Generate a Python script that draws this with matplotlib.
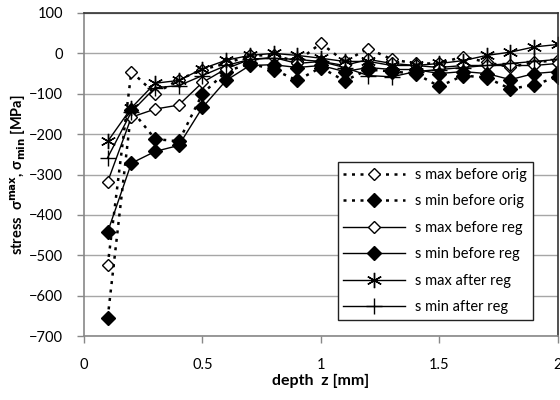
import numpy as np
import matplotlib
matplotlib.use("Agg")
import matplotlib.pyplot as plt

plt.rcParams['font.family'] = ['Lato', 'DejaVu Sans']
plt.rcParams['mathtext.fontset'] = 'dejavusans'

# depth z [mm]
depth = [0.1, 0.2, 0.3, 0.4, 0.5, 0.6, 0.7, 0.8, 0.9, 1.0,
         1.1, 1.2, 1.3, 1.4, 1.5, 1.6, 1.7, 1.8, 1.9, 2.0]

# stresses [MPa]
s_max_before_orig = [-525, -45, -100, -65, -40, -25, -5, -5, -20, 25,
                     -20, 12, -15, -25, -25, -8, -22, -34, -22, -17]
s_min_before_orig = [-655, -140, -212, -218, -100, -45, -25, -40, -67, -35,
                     -68, -40, -45, -50, -82, -55, -60, -88, -78, -58]
s_max_before_reg = [-318, -158, -138, -128, -72, -38, -15, -10, -25, -20,
                    -30, -15, -25, -30, -35, -30, -30, -30, -30, -25]
s_min_before_reg = [-442, -272, -243, -228, -134, -67, -30, -28, -35, -30,
                    -45, -35, -40, -40, -50, -45, -50, -65, -50, -45]
s_max_after_reg = [-218, -135, -74, -67, -38, -17, -5, 0, -5, -12,
                   -20, -20, -30, -30, -25, -18, -5, 3, 16, 22]
s_min_after_reg = [-258, -145, -85, -80, -55, -30, -15, -12, -15, -20,
                   -35, -55, -58, -45, -40, -35, -30, -25, -20, -15]

labels = ['s max before orig', 's min before orig', 's max before reg',
          's min before reg', 's max after reg', 's min after reg']

fig = plt.figure(figsize=(5.6, 4.0), dpi=100)
ax = fig.add_axes([0.15, 0.16, 0.846, 0.8075])

# gridlines behind the data
ax.set_axisbelow(True)
ax.yaxis.grid(True, color='#a6a6a6', linewidth=1.0)

dotted = (0, (1.2, 2.2))
ax.plot(depth, s_max_before_orig, linestyle=dotted, color='black', lw=1.8,
        marker='D', ms=6.5, mfc='white', mec='black', mew=1.0, label=labels[0])
ax.plot(depth, s_min_before_orig, linestyle=dotted, color='black', lw=1.8,
        marker='D', ms=7.5, mfc='black', mec='black', label=labels[1])
ax.plot(depth, s_max_before_reg, linestyle='-', color='black', lw=1.0,
        marker='D', ms=6.5, mfc='white', mec='black', mew=1.0, label=labels[2])
ax.plot(depth, s_min_before_reg, linestyle='-', color='black', lw=1.0,
        marker='D', ms=7.5, mfc='black', mec='black', label=labels[3])
ax.plot(depth, s_max_after_reg, linestyle='-', color='black', lw=1.0,
        marker=(6, 2, 0), ms=11, mec='black', mew=1.0, label=labels[4])
ax.plot(depth, s_min_after_reg, linestyle='-', color='black', lw=1.0,
        marker='+', ms=12, mec='black', mew=1.0, label=labels[5])

ax.set_xlim(0, 2)
ax.set_ylim(-700, 100)
ax.set_xticks([0, 0.5, 1, 1.5, 2])
ax.set_xticklabels(['0', '0.5', '1', '1.5', '2'])
ax.set_yticks(np.arange(-700, 101, 100))

ax.tick_params(axis='both', colors='#888888', labelcolor='black', labelsize=10.5,
               length=5, width=1.0, direction='out')
ax.tick_params(axis='x', pad=11)
ax.tick_params(axis='y', pad=10)

for side in ['left', 'bottom']:
    ax.spines[side].set_color('#888888')
    ax.spines[side].set_linewidth(1.2)
for side in ['top', 'right']:
    ax.spines[side].set_color('#333333')
    ax.spines[side].set_linewidth(1.2)

ax.set_xlabel('depth  z [mm]', fontsize=11.5, fontweight='bold', labelpad=1)
ax.set_ylabel(r'stress  σ$^{\mathbf{max}}$, σ$_{\mathbf{min}}$ [MPa]',
              fontsize=10.5, fontweight='bold', labelpad=1)

leg = ax.legend(loc='lower right', bbox_to_anchor=(0.947, 0.05), fontsize=10.5,
                frameon=True, fancybox=False, framealpha=1, edgecolor='#222222',
                handlelength=4.2, handletextpad=0.7, labelspacing=0.85,
                borderpad=0.4, borderaxespad=0)
leg.get_frame().set_linewidth(1.0)

fig.savefig('out.png', dpi=100)
